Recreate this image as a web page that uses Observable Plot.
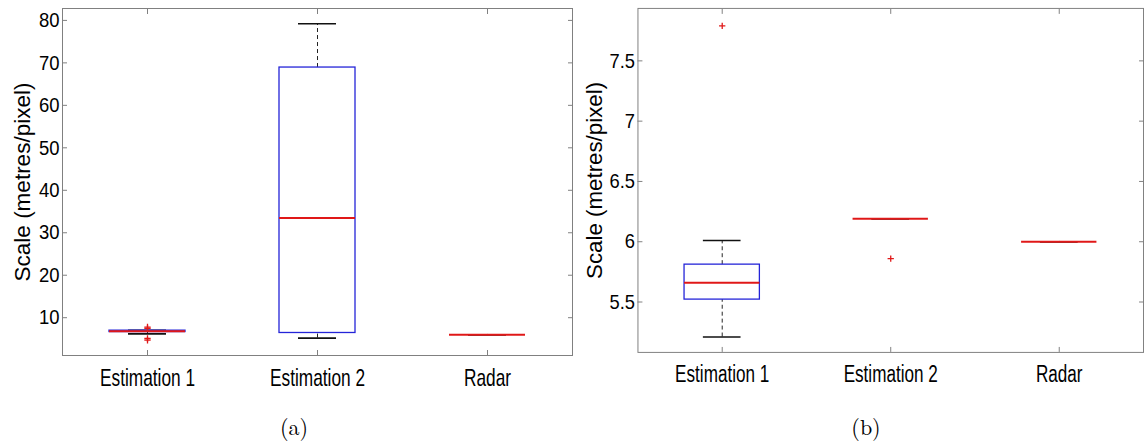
<!DOCTYPE html>
<html>
<head>
<meta charset="utf-8">
<script src="https://cdn.jsdelivr.net/npm/d3@7"></script>
<script src="https://cdn.jsdelivr.net/npm/@observablehq/plot@0.6"></script>
<style>
  html, body { margin: 0; padding: 0; background: #fff; overflow: hidden; }
  #wrap { position: relative; width: 1145px; height: 442px; overflow: hidden; }
  .panel { position: absolute; top: 0; }
  .cap { position: absolute; top: 410px; font-family: "Latin Modern Roman", "DejaVu Serif", "Liberation Serif", serif; font-size: 22px; transform: translateX(-50%); color: #000; }
</style>
</head>
<body>
<div id="wrap">
  <div class="panel" id="pa" style="left:0px"></div>
  <div class="panel" id="pb" style="left:575px"></div>
  <div class="cap" style="left:294px">(a)</div>
  <div class="cap" style="left:866px">(b)</div>
</div>
<script>
// ---- data ----
const categories = ["Estimation 1", "Estimation 2", "Radar"];
const yLabel = "Scale (metres/pixel)";

// panel (a)
const aQ1 = [6.62, 6.4, 6.0];
const aMedian = [6.8, 33.5, 6.0];
const aQ3 = [6.95, 68.9, 6.0];
const aWhiskerLow = [6.2, 5.2, 6.0];
const aWhiskerHigh = [7.05, 79.2, 6.0];
const aOutlierCats = ["Estimation 1", "Estimation 1", "Estimation 1", "Estimation 1"];
const aOutlierValues = [7.8, 7.5, 5.1, 4.7];
const aTicks = [10, 20, 30, 40, 50, 60, 70, 80];
const aDomain = [1.1, 82.8];

// panel (b)
const bQ1 = [5.52, 6.19, 6.0];
const bMedian = [5.66, 6.19, 6.0];
const bQ3 = [5.81, 6.19, 6.0];
const bWhiskerLow = [5.21, 6.19, 6.0];
const bWhiskerHigh = [6.01, 6.19, 6.0];
const bOutlierCats = ["Estimation 1", "Estimation 2"];
const bOutlierValues = [7.79, 5.86];
const bTicks = [5.5, 6, 6.5, 7, 7.5];
const bDomain = [5.082, 7.935];

const BLUE = "#2424d8", RED = "#e01818", GREY = "#808080";
const FONT = "'Liberation Sans', Arial, sans-serif";

function squeeze(svg, selector, s) {
  svg.querySelectorAll(selector).forEach(t => {
    const x = +t.getAttribute("x") || 0, y = +t.getAttribute("y") || 0;
    const tr = t.getAttribute("transform") || "";
    t.setAttribute("transform", `${tr} translate(${x},${y}) scale(${s},1) translate(${-x},${-y})`);
  });
}

function makePanel({q1, med, q3, wl, wh, oc, ov, ticks, domain, marginLeft, marginRight, labelOffset}) {
  const rows = categories.map((c, i) => ({cat: c, q1: q1[i], med: med[i], q3: q3[i], wl: wl[i], wh: wh[i]}));
  const outs = oc.map((c, i) => ({cat: c, v: ov[i]}));
  const svg = Plot.plot({
    width: 575,
    height: 400,
    marginLeft, marginRight,
    marginTop: 8,
    marginBottom: 45,
    style: {background: "#fff", overflow: "visible"},
    x: {type: "band", domain: categories, padding: 0},
    y: {domain, ticks},
    marks: [
      Plot.frame({stroke: GREY}),
      // whiskers
      Plot.ruleX(rows, {x: "cat", y1: "q3", y2: "wh", stroke: "#222", strokeDasharray: "4,3", strokeWidth: 1}),
      Plot.ruleX(rows, {x: "cat", y1: "wl", y2: "q1", stroke: "#222", strokeDasharray: "4,3", strokeWidth: 1}),
      Plot.tickY(rows, {x: "cat", y: "wh", stroke: "#111", strokeWidth: 1.6, insetLeft: 66, insetRight: 66}),
      Plot.tickY(rows, {x: "cat", y: "wl", stroke: "#111", strokeWidth: 1.6, insetLeft: 66, insetRight: 66}),
      // box
      Plot.rect(rows, {x: "cat", y1: "q1", y2: "q3", fill: "none", stroke: BLUE, strokeWidth: 1.3, insetLeft: 47, insetRight: 47}),
      // median
      Plot.tickY(rows, {x: "cat", y: "med", stroke: RED, strokeWidth: 2, insetLeft: 47, insetRight: 47}),
      // outliers
      Plot.dot(outs, {x: "cat", y: "v", symbol: "plus", r: 2.2, stroke: RED, strokeWidth: 1.3}),
      // axes
      Plot.axisY(ticks, {anchor: "left", tickSize: 0, tickPadding: 3, label: null, tickFormat: d => String(d), fontSize: 21, fontFamily: FONT, fill: "#000"}),
      Plot.axisY(ticks, {anchor: "left", tickSize: -5, stroke: GREY, tickFormat: () => "", label: yLabel, labelArrow: "none", labelAnchor: "center", labelOffset, fontSize: 22.5, fontFamily: FONT, fill: "#000"}),
      Plot.axisY(ticks, {anchor: "right", tickSize: -5, stroke: GREY, tickFormat: () => "", label: null}),
      Plot.axisX({anchor: "bottom", tickSize: 0, tickPadding: 13, label: null, fontSize: 24, fontFamily: FONT, fill: "#000"}),
      Plot.axisX({anchor: "bottom", tickSize: -5, stroke: GREY, tickFormat: () => "", label: null}),
      Plot.axisX({anchor: "top", tickSize: -5, stroke: GREY, tickFormat: () => "", label: null})
    ]
  });
  squeeze(svg, 'g[aria-label="x-axis tick label"] text', 0.72);
  squeeze(svg, 'g[aria-label="y-axis tick label"] text', 0.88);
  svg.querySelectorAll('g[aria-label="y-axis label"] text').forEach(t => {
    if (t.textContent.includes("↑")) t.textContent = t.textContent.replace("↑", "").trim();
  });
  return svg;
}

document.getElementById("pa").appendChild(makePanel({
  q1: aQ1, med: aMedian, q3: aQ3, wl: aWhiskerLow, wh: aWhiskerHigh,
  oc: aOutlierCats, ov: aOutlierValues, ticks: aTicks, domain: aDomain,
  marginLeft: 62, marginRight: 3, labelOffset: 48
}));
document.getElementById("pb").appendChild(makePanel({
  q1: bQ1, med: bMedian, q3: bQ3, wl: bWhiskerLow, wh: bWhiskerHigh,
  oc: bOutlierCats, ov: bOutlierValues, ticks: bTicks, domain: bDomain,
  marginLeft: 63, marginRight: 2, labelOffset: 52
}));
</script>
</body>
</html>
